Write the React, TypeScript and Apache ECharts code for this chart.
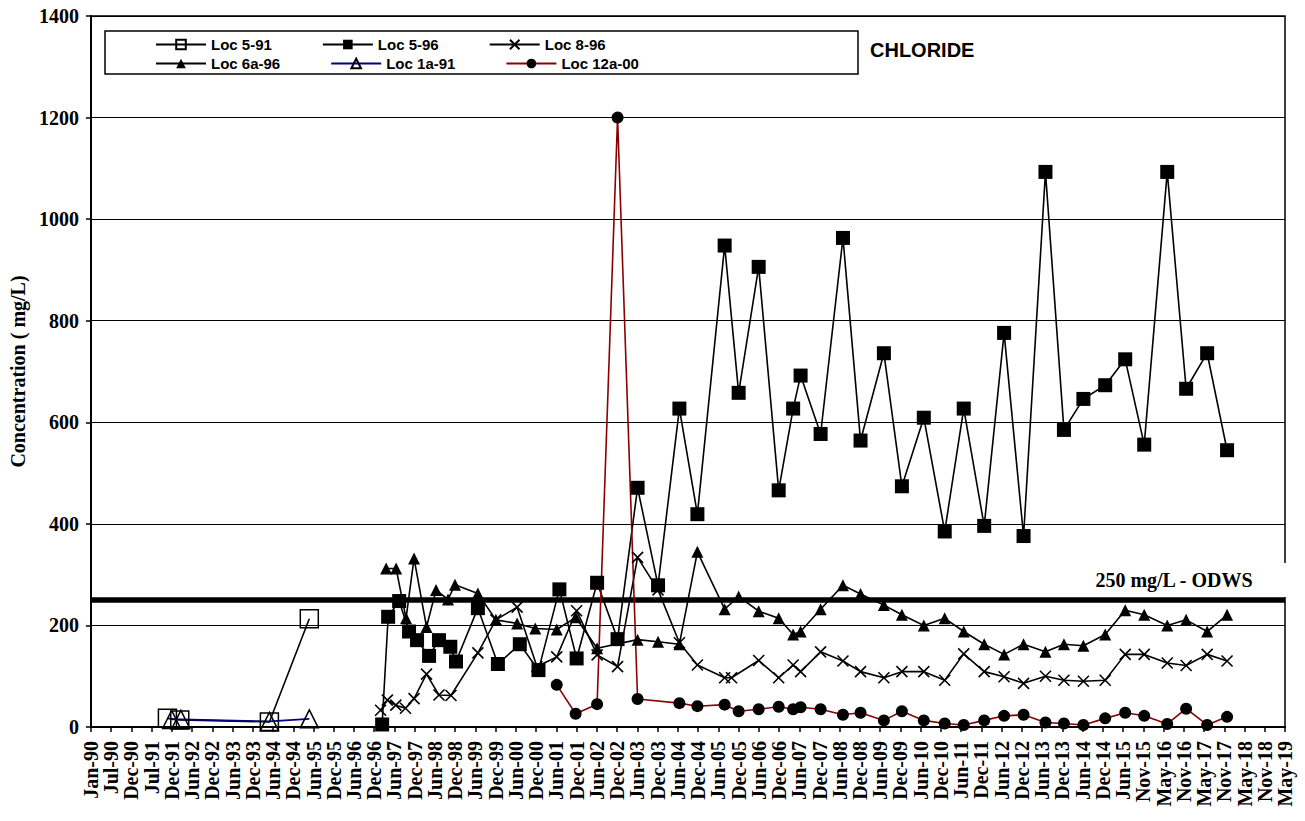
import React, { useEffect, useRef } from "react";
import * as echarts from "echarts";

// ---- Tick labels (Excel date axis, one label every 182 days from 1-Jan-1990) ----
const xTickLabels = [
  "Jan-90", "Jul-90", "Dec-90", "Jul-91", "Dec-91", "Jun-92", "Dec-92", "Jun-93", "Dec-93", "Jun-94",
  "Dec-94", "Jun-95", "Dec-95", "Jun-96", "Dec-96", "Jun-97", "Dec-97", "Jun-98", "Dec-98", "Jun-99",
  "Dec-99", "Jun-00", "Dec-00", "Jun-01", "Dec-01", "Jun-02", "Dec-02", "Jun-03", "Dec-03", "Jun-04",
  "Dec-04", "Jun-05", "Dec-05", "Jun-06", "Dec-06", "Jun-07", "Dec-07", "Jun-08", "Dec-08", "Jun-09",
  "Dec-09", "Jun-10", "Dec-10", "Jun-11", "Dec-11", "Jun-12", "Dec-12", "Jun-13", "Dec-13", "Jun-14",
  "Dec-14", "Jun-15", "Nov-15", "May-16", "Nov-16", "May-17", "Nov-17", "May-18", "Nov-18", "May-19",
];
const TICK_DAYS = 182;
const yTicks = [0, 200, 400, 600, 800, 1000, 1200, 1400];

// ---- Series data ----
const loc591Dates = ["1991-11-20", "1992-03-10", "1994-05-25", "1995-05-19"];
const loc591Values = [17, 14, 10, 213];

const loc1a91Dates = ["1991-12-28", "1992-03-20", "1994-05-25", "1995-05-19"];
const loc1a91Values = [15, 15, 11, 16];

const loc596Dates = [
  "1997-03-04", "1997-04-27", "1997-08-04", "1997-11-01", "1998-01-12", "1998-04-30", "1998-07-28",
  "1998-11-07", "1998-12-28", "1999-07-13", "2000-01-09", "2000-07-24", "2001-01-08", "2001-07-15",
  "2001-12-17", "2002-06-19", "2002-12-20", "2003-06-18", "2003-12-19", "2004-06-28", "2004-12-07",
  "2005-08-09", "2005-12-13", "2006-06-11", "2006-12-08", "2007-04-17", "2007-06-23", "2007-12-20",
  "2008-07-08", "2008-12-13", "2009-07-11", "2009-12-20", "2010-07-05", "2011-01-09", "2011-06-29",
  "2011-12-30", "2012-06-26", "2012-12-18", "2013-07-03", "2013-12-16", "2014-06-09", "2014-12-22",
  "2015-06-20", "2015-12-08", "2016-07-02", "2016-12-19", "2017-06-26", "2017-12-22",
];
const loc596Values = [
  5, 217, 248, 188, 171, 140, 171, 158, 129, 234, 124, 163, 112, 271, 135, 284, 173, 471, 279, 627, 419,
  948, 658, 906, 466, 627, 692, 577, 963, 564, 736, 474, 609, 385, 627, 396, 776, 376, 1093, 585, 646,
  673, 724, 556, 1093, 666, 736, 545,
];

const loc896Dates = [
  "1997-02-18", "1997-04-20", "1997-07-05", "1997-09-30", "1997-12-16", "1998-04-07", "1998-07-28",
  "1998-11-13", "1999-07-13", "1999-12-22", "2000-06-30", "2000-12-25", "2001-06-21", "2001-12-17",
  "2002-06-19", "2002-12-20", "2003-06-18", "2003-12-19", "2004-06-28", "2004-12-07", "2005-08-09",
  "2005-10-10", "2006-06-11", "2006-12-08", "2007-04-17", "2007-06-23", "2007-12-20", "2008-07-08",
  "2008-12-13", "2009-07-11", "2009-12-20", "2010-07-05", "2011-01-09", "2011-06-29", "2011-12-30",
  "2012-06-26", "2012-12-18", "2013-07-03", "2013-12-16", "2014-06-09", "2014-12-22", "2015-06-20",
  "2015-12-08", "2016-07-02", "2016-12-19", "2017-06-26", "2017-12-22",
];
const loc896Values = [
  33, 53, 43, 37, 56, 104, 63, 62, 146, 211, 236, 119, 138, 229, 142, 119, 334, 270, 166, 122, 97,
  97, 131, 97, 122, 109, 148, 130, 109, 97, 109, 109, 92, 144, 109, 99, 86, 100, 92, 90, 92, 143,
  143, 126, 121, 143, 130,
];

const loc6a96Dates = [
  "1997-04-09", "1997-07-08", "1997-10-05", "1997-12-16", "1998-04-07", "1998-07-02", "1998-10-17",
  "1998-12-19", "1999-07-13", "1999-12-22", "2000-06-30", "2000-12-10", "2001-06-21", "2001-12-08",
  "2002-06-19", "2003-06-18", "2003-12-19", "2004-06-28", "2004-12-07", "2005-08-09", "2005-12-13",
  "2006-06-11", "2006-12-08", "2007-04-17", "2007-06-23", "2007-12-20", "2008-07-08", "2008-12-13",
  "2009-07-11", "2009-12-20", "2010-07-05", "2011-01-09", "2011-06-29", "2011-12-30", "2012-06-26",
  "2012-12-18", "2013-07-03", "2013-12-16", "2014-06-09", "2014-12-22", "2015-06-20", "2015-12-08",
  "2016-07-02", "2016-12-19", "2017-06-26", "2017-12-22",
];
const loc6a96Values = [
  312, 312, 214, 332, 197, 270, 251, 280, 263, 211, 204, 194, 192, 216, 155, 172, 168, 163, 345, 232,
  257, 228, 214, 182, 188, 232, 279, 262, 240, 221, 200, 214, 188, 163, 143, 163, 148, 163, 160, 182,
  230, 221, 200, 211, 188, 221,
];

const loc12a00Dates = [
  "2001-06-21", "2001-12-08", "2002-06-19", "2002-12-20", "2003-06-18", "2004-06-28", "2004-12-07",
  "2005-08-09", "2005-12-13", "2006-06-11", "2006-12-08", "2007-04-17", "2007-06-23", "2007-12-20",
  "2008-07-08", "2008-12-13", "2009-07-11", "2009-12-20", "2010-07-05", "2011-01-09", "2011-06-29",
  "2011-12-30", "2012-06-26", "2012-12-18", "2013-07-03", "2013-12-16", "2014-06-09", "2014-12-22",
  "2015-06-20", "2015-12-08", "2016-07-02", "2016-12-19", "2017-06-26", "2017-12-22",
];
const loc12a00Values = [
  83, 26, 45, 1200, 55, 47, 41, 44, 31, 35, 40, 35, 39, 35, 24, 28, 13, 31, 13, 7, 4, 13, 22, 24, 9,
  7, 4, 17, 28, 22, 6, 36, 4, 20,
];

const ODWS_LIMIT = 250;
const ODWS_LABEL = "250 mg/L - ODWS";
const CHART_TITLE = "CHLORIDE";
const Y_NAME = "Concentration ( mg/L)";

// ---- helpers ----
const BASE = Date.UTC(1990, 0, 1);
const toDays = (s: string) => {
  const [y, m, d] = s.split("-").map(Number);
  return (Date.UTC(y, m - 1, d) - BASE) / 86400000;
};
const pairs = (dates: string[], values: number[]) => dates.map((d, i) => [toDays(d), values[i]]);

const SERIF = "'Liberation Serif', 'Times New Roman', serif";
const SANS = "'Liberation Sans', Arial, sans-serif";
const X_SYMBOL = "path://M0,0L10,10M10,0L0,10";

export default function App() {
  const ref = useRef<HTMLDivElement>(null);

  useEffect(() => {
    if (!ref.current) return;
    const chart = echarts.init(ref.current, undefined, { renderer: "svg" });

    const lineBase = (name: string, data: any[], color: string) => ({
      name,
      type: "line",
      data,
      lineStyle: { color, width: 1.6 },
      emphasis: { disabled: true },
      z: 3,
    });

    const legendText = {
      fontFamily: SANS,
      fontWeight: "bold",
      fontSize: 15,
      color: "#000",
      width: 145,
      overflow: "truncate",
    };

    const option: any = {
      animation: false,
      backgroundColor: "#fff",
      title: {
        text: CHART_TITLE,
        left: 865,
        top: 35,
        textStyle: { fontFamily: SANS, fontWeight: "bold", fontSize: 20, color: "#000" },
      },
      legend: [
        {
          data: ["Loc 5-91", "Loc 5-96", "Loc 8-96"],
          left: 155,
          top: 37,
          itemWidth: 50,
          itemHeight: 12,
          itemGap: 50,
          padding: 0,
          textStyle: legendText,
          selectedMode: false,
        },
        {
          data: ["Loc 6a-96", "Loc 1a-91", "Loc 12a-00"],
          left: 155,
          top: 56,
          itemWidth: 50,
          itemHeight: 12,
          itemGap: 50,
          padding: 0,
          textStyle: legendText,
          selectedMode: false,
        },
      ],
      grid: {
        left: 88,
        right: 20,
        top: 16,
        bottom: 94,
        show: true,
        borderColor: "#000",
        borderWidth: 1.5,
        backgroundColor: "transparent",
      },
      xAxis: {
        type: "value",
        min: 0,
        max: (xTickLabels.length - 1) * TICK_DAYS,
        interval: TICK_DAYS,
        splitLine: { show: false },
        axisLine: { show: true, onZero: false, lineStyle: { color: "#000", width: 2 } },
        axisTick: { show: true, length: 5, lineStyle: { color: "#000", width: 1.5 } },
        axisLabel: {
          rotate: 90,
          margin: 14,
          fontFamily: SERIF,
          fontWeight: "bold",
          fontSize: 20,
          color: "#000",
          showMinLabel: true,
          showMaxLabel: true,
          formatter: (v: number) => xTickLabels[Math.round(v / TICK_DAYS)] ?? "",
        },
      },
      yAxis: {
        type: "value",
        min: yTicks[0],
        max: yTicks[yTicks.length - 1],
        interval: yTicks[1] - yTicks[0],
        name: Y_NAME,
        nameLocation: "middle",
        nameGap: 62,
        nameTextStyle: { fontFamily: SERIF, fontWeight: "bold", fontSize: 20, color: "#000" },
        axisLine: { show: true, lineStyle: { color: "#000", width: 2 } },
        axisTick: { show: true, length: 5, lineStyle: { color: "#000", width: 1.5 } },
        splitLine: { show: true, lineStyle: { color: "#000", width: 1.2 } },
        axisLabel: {
          margin: 12,
          fontFamily: SERIF,
          fontWeight: "bold",
          fontSize: 20,
          color: "#000",
          formatter: (v: number) => String(v),
        },
      },
      series: [
        {
          ...lineBase("Loc 5-91", pairs(loc591Dates, loc591Values), "#000"),
          symbol: "rect",
          symbolSize: 18,
          itemStyle: { color: "rgba(0,0,0,0)", borderColor: "#000", borderWidth: 1.5 },
          markLine: {
            silent: true,
            symbol: "none",
            label: { show: false },
            lineStyle: { color: "#000", width: 5.5, type: "solid" },
            data: [{ yAxis: ODWS_LIMIT }],
            z: 2,
          },
        },
        {
          ...lineBase("Loc 5-96", pairs(loc596Dates, loc596Values), "#000"),
          symbol: "rect",
          symbolSize: 14,
          itemStyle: { color: "#000" },
        },
        {
          ...lineBase("Loc 8-96", pairs(loc896Dates, loc896Values), "#000"),
          symbol: X_SYMBOL,
          symbolSize: 11,
          itemStyle: { color: "#000", borderColor: "#000", borderWidth: 1.6 },
        },
        {
          ...lineBase("Loc 6a-96", pairs(loc6a96Dates, loc6a96Values), "#000"),
          symbol: "triangle",
          symbolSize: 12,
          itemStyle: { color: "#000" },
        },
        {
          ...lineBase("Loc 1a-91", pairs(loc1a91Dates, loc1a91Values), "#000080"),
          symbol: "triangle",
          symbolSize: 18,
          itemStyle: { color: "rgba(0,0,0,0)", borderColor: "#000", borderWidth: 1.5 },
        },
        {
          ...lineBase("Loc 12a-00", pairs(loc12a00Dates, loc12a00Values), "#8B0000"),
          symbol: "circle",
          symbolSize: 12,
          itemStyle: { color: "#000" },
        },
      ],
      graphic: [
        {
          type: "rect",
          z: -1,
          shape: { x: 105, y: 31, width: 753, height: 43 },
          style: { fill: "#fff", stroke: "#000", lineWidth: 1.5 },
        },
        {
          type: "rect",
          z: 50,
          shape: { x: 1072, y: 563, width: 233, height: 34 },
          style: { fill: "#fff" },
        },
        {
          type: "text",
          z: 51,
          x: 1174,
          y: 580,
          style: {
            text: ODWS_LABEL,
            fontFamily: SERIF,
            fontWeight: "bold",
            fontSize: 20,
            fill: "#000",
            align: "center",
            verticalAlign: "middle",
          },
        },
      ],
    };

    chart.setOption(option);
    return () => chart.dispose();
  }, []);

  return (
    <div
      ref={ref}
      style={{ position: "absolute", left: 0, top: 0, width: 1305, height: 821, background: "#fff" }}
    />
  );
}
